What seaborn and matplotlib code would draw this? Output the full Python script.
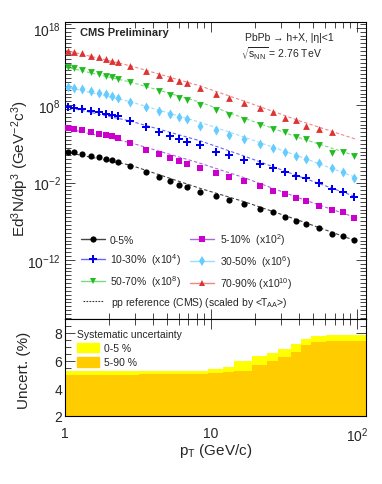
import numpy as np
import pandas as pd
import matplotlib
matplotlib.use('Agg')
import matplotlib.pyplot as plt
import seaborn as sns
from matplotlib.lines import Line2D
from matplotlib.patches import Patch
from matplotlib.ticker import FixedLocator, NullFormatter, FixedFormatter

# bin centres (GeV/c)
pt = [1.05, 1.15, 1.3, 1.5, 1.7, 1.9, 2.1, 2.3, 2.8, 3.6, 4.4, 5.2, 6.0, 6.8, 8.4,
      10.8, 13.2, 16.8, 21.6, 26.4, 32.0, 38.4, 44.8, 54.4, 67.2, 80.0, 95.0]

# log10 of the (scaled) yields
log_0_5 = [1.96, 1.92, 1.74, 1.48, 1.27, 1.05, 0.92, 0.70, 0.19, -0.59, -1.28, -1.79, -2.27, -2.61,
           -3.18, -3.77, -4.21, -4.81, -5.42, -5.84, -6.41, -6.93, -7.32, -7.88, -8.61, -8.91, -9.43]
log_5_10 = [5.06, 4.97, 4.77, 4.55, 4.33, 4.20, 3.99, 3.81, 3.12, 2.26, 1.70, 1.18, 0.76, 0.41,
            -0.15, -0.76, -1.24, -1.83, -2.48, -3.05, -3.47, -3.99, -4.34, -4.99, -5.51, -5.84, -6.58]
log_10_30 = [7.78, 7.65, 7.48, 7.26, 7.13, 6.91, 6.71, 6.58, 5.93, 5.19, 4.55, 4.07, 3.68, 3.25,
             2.80, 2.00, 1.57, 0.96, 0.41, -0.15, -0.67, -1.11, -1.44, -2.09, -2.83, -3.18, -3.82]
log_30_50 = [10.37, 10.24, 10.07, 9.85, 9.59, 9.42, 9.16, 8.98, 8.43, 7.78, 7.22, 6.84, 6.49, 6.23,
             5.36, 4.77, 4.20, 3.64, 3.00, 2.44, 2.00, 1.48, 1.05, 0.54, -0.15, -0.67, -1.44]
log_50_70 = [12.92, 12.83, 12.57, 12.31, 12.09, 11.83, 11.66, 11.40, 10.98, 10.46, 9.85, 9.33, 8.98, 8.65,
             8.04, 7.43, 6.75, 6.14, 5.45, 4.93, 4.51, 3.90, 3.64, 2.86, 1.83, 2.00, 1.48]
log_70_90 = [15.06, 14.93, 14.73, 14.42, 14.21, 13.99, 13.77, 13.60, 13.08, 12.48, 11.96, 11.53, 11.18, 10.88,
             10.20, 9.46, 8.94, 8.30, 7.61, 7.17, 6.32, 6.10, 5.28, 4.93, 4.58]

# pp reference (scaled by <TAA>), log10 at a few pT knots
ref_pt = [1.0, 2.8, 8.4, 17.0, 40.0, 100.0]
ref_0_5 = [1.95, 0.25, -2.75, -4.5, -6.9, -9.6]
ref_5_10 = [5.05, 3.15, 0.5, -1.4, -4.0, -6.6]
ref_10_30 = [7.8, 5.95, 3.4, 1.4, -1.2, -3.9]
ref_30_50 = [10.4, 8.45, 5.8, 3.85, 1.4, -1.4]
ref_50_70 = [12.95, 11.0, 8.4, 6.3, 3.8, 1.4]
ref_70_90 = [15.1, 13.1, 10.5, 8.5, 6.0, 3.55]

labels = ['0-5%', '5-10%  (x10$^{2}$)', '10-30%  (x10$^{4}$)', '30-50%  (x10$^{6}$)',
          '50-70%  (x10$^{8}$)', '70-90% (x10$^{10}$)']

# systematic uncertainty (%) per pT bin
edges = [1.0, 1.1, 1.2, 1.4, 1.6, 1.8, 2.0, 2.2, 2.4, 3.2, 4.0, 4.8, 5.6, 6.4, 7.2, 9.6,
         12.0, 14.4, 19.2, 24.0, 28.8, 35.2, 41.6, 48.0, 60.8, 73.6, 86.4, 120.0]
syst_0_5 = [5.22, 5.22, 5.22, 5.22, 5.22, 5.22, 5.22, 5.22, 5.23, 5.24, 5.25, 5.26, 5.27, 5.27, 5.28,
            5.39, 5.54, 5.95, 6.31, 6.55, 6.82, 7.20, 7.59, 7.76, 7.85, 7.86, 7.87]
syst_5_90 = [4.98, 4.98, 4.98, 4.98, 4.98, 4.98, 4.98, 4.98, 4.99, 5.0, 5.0, 5.01, 5.02, 5.03, 5.05,
             5.12, 5.15, 5.27, 5.68, 5.95, 6.24, 6.60, 7.13, 7.32, 7.40, 7.40, 7.40]

series = [
    (log_0_5, ref_0_5, 'o', '#000000', '#444444', 20),
    (log_5_10, ref_5_10, 's', '#cc00cc', '#aa66dd', 18),
    (log_10_30, ref_10_30, 'P', '#0000ee', '#6666ff', 30),
    (log_30_50, ref_30_50, 'd', '#66ccff', '#99ddff', 26),
    (log_50_70, ref_50_70, 'v', '#22bb22', '#77dd77', 24),
    (log_70_90, ref_70_90, '^', '#dd3333', '#ee8888', 24),
]

sns.set_style('ticks')
plt.rcParams['font.family'] = ['Liberation Sans', 'DejaVu Sans']
plt.rcParams['mathtext.default'] = 'regular'

W, H = 382, 485
fig = plt.figure(figsize=(W / 100, H / 100), dpi=100)
ax = fig.add_axes([65 / W, 1 - 320 / H, 301 / W, (320 - 22.7) / H])
ax2 = fig.add_axes([65 / W, 1 - 417 / H, 301 / W, 97 / H])

handles = []
for vals, ref, mk, col, lcol, size in series:
    df = pd.DataFrame({'pt': pt[:len(vals)], 'y': 10.0 ** np.array(vals)})
    rf = pd.DataFrame({'pt': ref_pt, 'y': 10.0 ** np.array(ref)})
    sns.lineplot(data=rf, x='pt', y='y', ax=ax, color=lcol, lw=0.8,
                 linestyle=(0, (3, 2)), zorder=2)
    sns.scatterplot(data=df, x='pt', y='y', ax=ax, marker=mk, color=col, s=size,
                    edgecolor=col, linewidth=0, zorder=3, legend=False)
    handles.append(Line2D([0], [0], color=lcol, lw=1.0, marker=mk, markersize=np.sqrt(size),
                          markerfacecolor=col, markeredgecolor=col, markeredgewidth=0))

ax.set_xscale('log')
ax.set_yscale('log')
ax.set_xlim(1, 115)
ax.set_ylim(10 ** -19.65, 10 ** 18.8)
ax.set_xlabel('')
ax.set_ylabel(r'Ed$^{3}$N/dp$^{3}$ (GeV$^{-2}$c$^{3}$)', fontsize=11)
ax.yaxis.set_label_coords(-0.112, 0.51)

ax.yaxis.set_major_locator(FixedLocator([1e-12, 1e-2, 1e8, 1e18]))
ax.yaxis.set_major_formatter(FixedFormatter(['10$^{-12}$', '10$^{-2}$', '10$^{8}$', '10$^{18}$']))
ax.yaxis.set_minor_locator(FixedLocator(10.0 ** np.arange(-19.5, 19, 0.5)))
ax.yaxis.set_minor_formatter(NullFormatter())

for a in (ax, ax2):
    a.xaxis.set_major_locator(FixedLocator([1, 10, 100]))
    a.xaxis.set_minor_locator(FixedLocator([2, 3, 4, 5, 6, 7, 8, 9, 20, 30, 40, 50, 60, 70, 80, 90]))
    a.xaxis.set_minor_formatter(NullFormatter())
    a.tick_params(which='both', direction='in', top=True, right=True, width=0.6, labelsize=10)
    a.tick_params(which='major', length=7)
    a.tick_params(which='minor', length=4)
    for s in a.spines.values():
        s.set_linewidth(0.8)
        s.set_color('black')
ax.tick_params(axis='x', labelbottom=False)
ax.tick_params(axis='y', pad=3)

leg = ax.legend([handles[0], handles[2], handles[4], handles[1], handles[3], handles[5]],
                [labels[0], labels[2], labels[4], labels[1], labels[3], labels[5]],
                ncol=2, loc='upper left', bbox_to_anchor=(0.053, 0.297), frameon=False,
                fontsize=7.5, handlelength=2.3, handletextpad=0.5, columnspacing=0.9,
                labelspacing=0.62, borderpad=0, borderaxespad=0)
ax.add_artist(leg)
ax.legend([Line2D([0], [0], color='#333333', lw=0.8, linestyle=(0, (1.5, 1.2)))],
          ['pp reference (CMS) (scaled by <T$_{AA}$>)'],
          loc='upper left', bbox_to_anchor=(0.06, 0.082), frameon=False, fontsize=7.5,
          handlelength=2.0, handletextpad=0.7, borderpad=0, borderaxespad=0)

fig.text(80 / W, 1 - 33 / H, 'CMS Preliminary', fontsize=8, fontweight='bold', va='center')
fig.text(245 / W, 1 - 38 / H, 'PbPb → h+X, |η|<1', fontsize=7.5, va='center')
fig.text(241 / W, 1 - 54 / H, r'$\sqrt{s_{NN}}$ = 2.76 TeV', fontsize=7.5, va='center')

# bottom panel: systematic uncertainties
ax2.fill_between(edges, syst_0_5 + [syst_0_5[-1]], step='post', color='#ffff00', lw=0)
ax2.fill_between(edges, syst_5_90 + [syst_5_90[-1]], step='post', color='#ffcc00', lw=0)
ax2.set_xscale('log')
ax2.set_xlim(1, 115)
ax2.set_ylim(2, 9)
ax2.xaxis.set_major_locator(FixedLocator([1, 10, 100]))
ax2.xaxis.set_major_formatter(FixedFormatter(['1', '10', '10$^{2}$']))
ax2.yaxis.set_major_locator(FixedLocator([2, 4, 6, 8]))
ax2.yaxis.set_minor_locator(FixedLocator(np.arange(2, 9.01, 0.5)))
ax2.tick_params(axis='x', pad=7)
ax2.tick_params(axis='y', pad=2)
ax2.set_xlabel('p$_{T}$ (GeV/c)', fontsize=11)
ax2.xaxis.set_label_coords(0.5, -0.26)
ax2.set_ylabel('Uncert. (%)', fontsize=11)
ax2.yaxis.set_label_coords(-0.112, 0.48)
ax2.legend([Patch(fc='#ffff00', ec='#ffff00'), Patch(fc='#ffcc00', ec='#ffcc00')],
           ['0-5 %', '5-90 %'], title='Systematic uncertainty', title_fontsize=7.5,
           fontsize=7.5, loc='upper left', bbox_to_anchor=(0.04, 0.9), frameon=False,
           alignment='left', handlelength=2.1, handleheight=1.0, handletextpad=0.5,
           labelspacing=0.4, borderpad=0, borderaxespad=0)

fig.savefig('out.png', dpi=100)
